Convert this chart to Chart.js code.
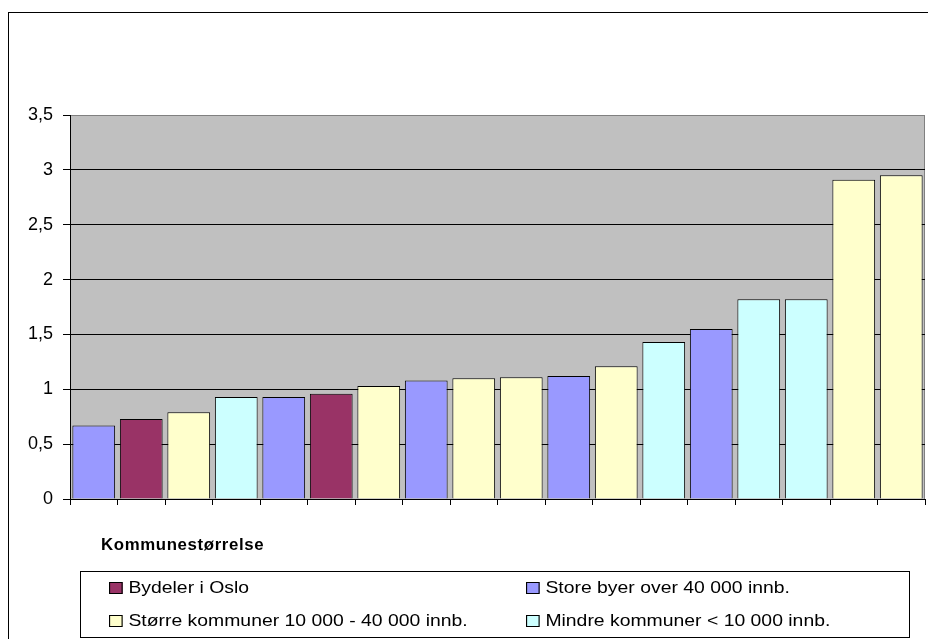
<!DOCTYPE html>
<html>
<head>
<meta charset="utf-8">
<script src="https://cdn.jsdelivr.net/npm/chart.js@4/dist/chart.umd.min.js"></script>
<style>
  html, body { margin: 0; padding: 0; background: #fff; overflow: hidden; }
  #wrap { position: relative; width: 928px; height: 639px; }
  #frame { position: absolute; left: 8px; top: 12px; width: 1000px; height: 1000px; border: 1px solid #000; box-sizing: border-box; pointer-events: none; }
  canvas { position: absolute; left: 0; top: 0; }
  #legTitle { position: absolute; left: 101px; top: 536px; font: bold 16px "Liberation Sans", Arial, sans-serif; letter-spacing: 0.6px; color: #000; transform-origin: 0 0; transform: scaleX(1.05); }
  #legBox { position: absolute; left: 80px; top: 571px; width: 830px; height: 67px; border: 1px solid #000; box-sizing: border-box; background: #fff; }
  .item { position: absolute; font: 17px "Liberation Sans", Arial, sans-serif; color: #000; white-space: nowrap; line-height: 20px; transform-origin: 0 50%; }
  .sw { display: inline-block; width: 10px; height: 10px; border: 1px solid #000; margin-right: 5px; vertical-align: -1px; }
</style>
</head>
<body>
<div id="wrap">
  <canvas id="c" width="928" height="639"></canvas>
  <div id="frame"></div>
  <div id="legTitle">Kommunestørrelse</div>
  <div id="legBox"></div>
</div>
<script>
// Kommuner sortert etter verdi, 18 enheter
const categories = ['1','2','3','4','5','6','7','8','9','10','11','12','13','14','15','16','17','18'];

// Verdier per kommunestørrelse (null der enheten tilhører en annen gruppe)
const bydelerOslo   = [null, 0.73, null, null, null, 0.96, null, null, null, null, null, null, null, null, null, null, null, null];
const storeByer     = [0.67, null, null, null, 0.93, null, null, 1.08, null, null, 1.12, null, null, 1.55, null, null, null, null];
const storreKomm    = [null, null, 0.79, null, null, null, 1.03, null, 1.10, 1.11, null, 1.21, null, null, null, null, 2.91, 2.95];
const mindreKomm    = [null, null, null, 0.93, null, null, null, null, null, null, null, null, 1.43, null, 1.82, 1.82, null, null];

const seriesLabels = [
  'Bydeler i Oslo',
  'Store byer over 40 000 innb.',
  'Større kommuner 10 000 - 40 000 innb.',
  'Mindre kommuner < 10 000 innb.'
];
const yTicks = [0, 0.5, 1, 1.5, 2, 2.5, 3, 3.5];

const colors = ['#993366', '#9999FF', '#FFFFCC', '#CCFFFF'];
const seriesData = [bydelerOslo, storeByer, storreKomm, mindreKomm];

const plotBg = {
  id: 'plotBg',
  beforeDraw(chart) {
    const { ctx, chartArea: a } = chart;
    ctx.save();
    ctx.fillStyle = '#C0C0C0';
    ctx.fillRect(a.left, a.top, a.right - a.left, a.bottom - a.top);
    ctx.strokeStyle = '#808080';
    ctx.lineWidth = 1;
    ctx.beginPath();
    ctx.moveTo(a.left, a.top + 0.5);
    ctx.lineTo(a.right - 0.5, a.top + 0.5);
    ctx.lineTo(a.right - 0.5, a.bottom);
    ctx.stroke();
    ctx.restore();
  }
};

const chart = new Chart(document.getElementById('c'), {
  type: 'bar',
  data: {
    labels: categories,
    datasets: seriesData.map((d, i) => ({
      label: seriesLabels[i],
      data: d,
      backgroundColor: colors[i],
      borderColor: '#000',
      borderWidth: 1,
      barPercentage: 0.9,
      categoryPercentage: 1.0
    }))
  },
  options: {
    responsive: false,
    animation: false,
    layout: { padding: { top: 115, right: 3, bottom: 0, left: 0 } },
    plugins: { legend: { display: false }, tooltip: { enabled: false } },
    scales: {
      x: {
        stacked: true,
        ticks: { display: false },
        grid: { drawOnChartArea: false, drawTicks: true, tickLength: 6, color: '#000', offset: true },
        border: { color: '#000', width: 1 },
        afterFit(s) { s.height = 140; }
      },
      y: {
        stacked: true,
        min: 0,
        max: 3.5,
        afterBuildTicks(s) { s.ticks = yTicks.map(v => ({ value: v })); },
        ticks: {
          padding: 10,
          color: '#000',
          font: { family: '"Liberation Sans", Arial, sans-serif', size: 18 },
          callback: v => String(v).replace('.', ',')
        },
        grid: {
          color: ctx => (ctx.tick && ctx.tick.value === 3.5) ? '#808080' : '#000',
          tickColor: '#000',
          tickLength: 7,
          lineWidth: 1
        },
        border: { color: '#000', width: 1 },
        afterFit(s) { s.width = 70; }
      }
    }
  },
  plugins: [plotBg]
});

// Legend in two columns, built from the chart's datasets
const box = document.getElementById('legBox');
const colX = [28, 445];
const rowY = [6, 39];
chart.data.datasets.forEach((ds, i) => {
  const el = document.createElement('div');
  el.className = 'item';
  el.style.left = colX[i % 2] + 'px';
  el.style.top = rowY[Math.floor(i / 2)] + 'px';
  el.style.transform = 'scaleX(1.14)';
  const sw = document.createElement('span');
  sw.className = 'sw';
  sw.style.background = ds.backgroundColor;
  el.appendChild(sw);
  el.appendChild(document.createTextNode(ds.label));
  box.appendChild(el);
});
</script>
</body>
</html>
